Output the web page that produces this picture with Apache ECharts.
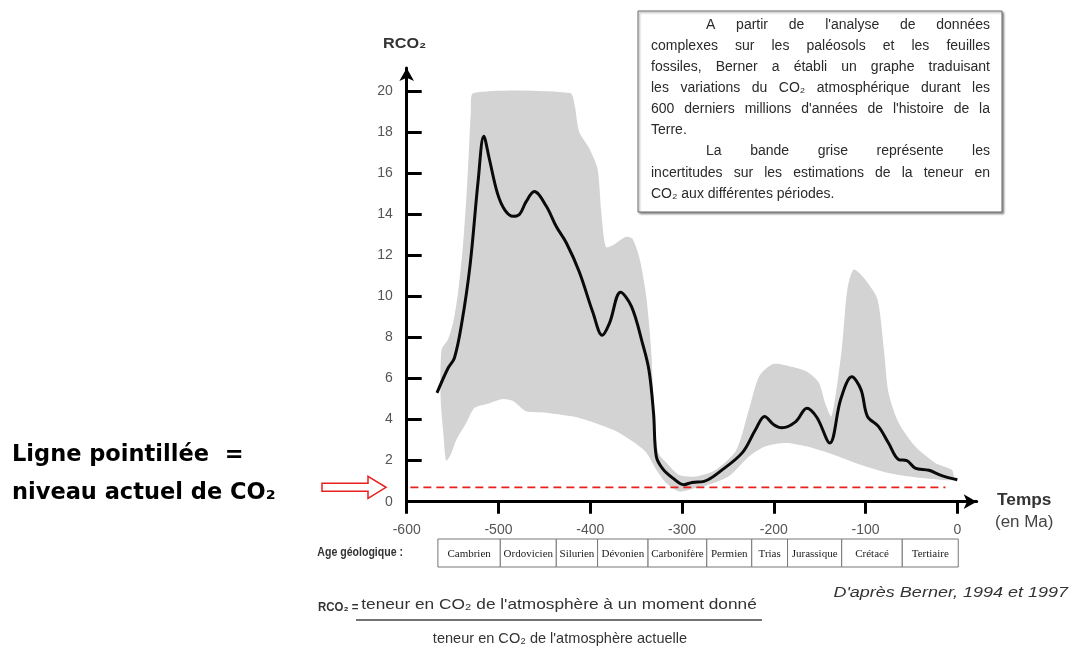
<!DOCTYPE html>
<html>
<head>
<meta charset="utf-8">
<script src="https://cdn.jsdelivr.net/npm/echarts@6/dist/echarts.min.js"></script>
<style>
  html, body { margin: 0; padding: 0; background: #fff; }
  #chart { width: 1072px; height: 649px; }
</style>
</head>
<body>
<div id="chart"></div>
<script>
// Atmospheric CO2 ratio (RCO2) over the last 600 Ma, after Berner (1994, 1997)

// Best-estimate curve: age (Ma) and RCO2
const curveAge  = [-567, -555, -548, -540, -531, -522, -516, -510, -501, -493, -484, -477, -470, -461, -448, -437, -426, -412, -397, -387, -379, -367, -355, -343, -336, -331, -328, -321, -310, -298, -289, -276, -256, -234, -220, -210, -200, -191, -176, -164, -153, -139, -127, -115, -105, -98, -86, -75, -64, -55, -46, -31, -17, 0];
const curveRco2 = [5.3, 6.5, 7.0, 8.7, 11.5, 15.7, 17.8, 16.7, 15.0, 14.2, 13.9, 14.0, 14.6, 15.1, 14.4, 13.4, 12.6, 11.2, 9.2, 8.1, 8.7, 10.2, 9.5, 7.7, 6.4, 4.3, 2.2, 1.6, 1.15, 0.83, 0.94, 0.99, 1.56, 2.4, 3.5, 4.15, 3.75, 3.6, 3.9, 4.55, 4.1, 2.86, 5.0, 6.08, 5.46, 4.16, 3.67, 2.86, 2.05, 2.0, 1.64, 1.53, 1.27, 1.07];

// Uncertainty band: upper edge
const bandTopAge  = [-562, -555, -549, -544, -539, -535, -532, -530, -527, -422, -417, -412, -401, -392, -388, -383, -375, -361, -354, -346, -339, -334, -330, -326, -317, -303, -285, -263, -241, -227, -216, -201, -183, -165, -151, -144, -137, -126, -120, -113, -100, -87, -80, -75, -64, -46, -24, -6, -4];
const bandTopRco2 = [7.4, 7.9, 8.8, 10.2, 12.3, 14.8, 17.3, 19.0, 19.9, 19.9, 19.3, 18.0, 17.2, 16.2, 14.1, 12.4, 12.5, 12.9, 12.8, 11.8, 10.0, 7.6, 4.3, 2.4, 1.9, 1.3, 1.23, 1.56, 2.5, 4.5, 6.1, 6.7, 6.6, 6.36, 5.8, 4.8, 4.16, 7.4, 10.3, 11.3, 10.8, 9.85, 7.4, 5.3, 3.84, 2.7, 1.89, 1.56, 1.3];

// Uncertainty band: lower edge
const bandBottomAge  = [-563, -560, -557, -552, -546, -535, -526, -510, -495, -484, -470, -448, -412, -375, -354, -339, -328, -317, -303, -285, -278, -249, -227, -209, -187, -165, -140, -111, -75, -38, -4];
const bandBottomRco2 = [5.0, 3.3, 2.0, 2.3, 3.0, 3.84, 4.57, 4.8, 5.0, 4.9, 4.4, 4.33, 4.08, 3.5, 2.94, 2.4, 1.56, 0.9, 0.5, 0.67, 0.72, 1.24, 2.2, 2.7, 2.86, 2.7, 2.37, 1.89, 1.4, 1.15, 1.05];

// Present-day level (dashed reference line)
const presentAge  = [-596, -13];
const presentRco2 = [0.7, 0.7];

// Axis ticks
const xTickValues = [-600, -500, -400, -300, -200, -100, 0];
const yTickValues = [0, 2, 4, 6, 8, 10, 12, 14, 16, 18, 20];

// Geological periods and their drawn limits (Ma)
const periodNames  = ['Cambrien', 'Ordovicien', 'Silurien', 'Dévonien', 'Carbonifère', 'Permien', 'Trias', 'Jurassique', 'Crétacé', 'Tertiaire'];
const periodBounds = [-566, -498, -437, -392, -337, -273, -224, -185, -126, -60, 1];

// Explanatory note
const noteLines = [
  "A partir de l'analyse de données",
  "complexes sur les paléosols et les feuilles",
  "fossiles, Berner a établi un graphe traduisant",
  "les variations du CO₂ atmosphérique durant les",
  "600 derniers millions d'années de l'histoire de la",
  "Terre.",
  "La bande grise représente les",
  "incertitudes sur les estimations de la teneur en",
  "CO₂ aux différentes périodes."
];
const noteIndented = [true, false, false, false, false, false, true, false, false];
const noteJustified = [true, true, true, true, true, false, true, true, false];

const SANS = '"Liberation Sans", Arial, Helvetica, sans-serif';
const SERIF = '"Liberation Serif", "Times New Roman", serif';
const HAND = '"Comic Sans MS", "DejaVu Sans", sans-serif';

function pairs(xs, ys) { return xs.map((x, i) => [x, ys[i]]); }

const chart = echarts.init(document.getElementById('chart'), null, { renderer: 'canvas' });

chart.setOption({
  animation: false,
  backgroundColor: '#ffffff',
  grid: { left: 406.7, right: 95.3, top: 68, bottom: 147.3, containLabel: false },
  xAxis: {
    type: 'value', min: -600, max: 21.1,
    splitLine: { show: false },
    axisLine: { show: true, lineStyle: { color: '#000', width: 3 }, symbol: ['none', 'arrow'], symbolSize: [11, 13] },
    axisTick: { show: true, inside: false, length: 12, lineStyle: { color: '#000', width: 3 }, customValues: xTickValues },
    axisLabel: { show: true, margin: 21, color: '#555', fontSize: 14, fontFamily: SANS, customValues: xTickValues }
  },
  yAxis: {
    type: 'value', min: 0, max: 21.12,
    splitLine: { show: false },
    axisLine: { show: true, onZero: false, lineStyle: { color: '#000', width: 3 }, symbol: ['none', 'arrow'], symbolSize: [11, 13] },
    axisTick: { show: true, inside: true, length: 15, lineStyle: { color: '#000', width: 3 }, customValues: yTickValues },
    axisLabel: { show: true, margin: 14, color: '#555', fontSize: 14, fontFamily: SANS, customValues: yTickValues }
  },
  series: [
    {
      // grey uncertainty band, drawn as one closed polygon
      type: 'custom',
      coordinateSystem: 'cartesian2d',
      silent: true,
      z: 1,
      data: [[bandTopAge[0], bandTopRco2[0]]],
      encode: { x: 0, y: 1 },
      renderItem: function (params, api) {
        const pts = [];
        for (let i = 0; i < bandTopAge.length; i++) pts.push(api.coord([bandTopAge[i], bandTopRco2[i]]));
        for (let i = bandBottomAge.length - 1; i >= 0; i--) pts.push(api.coord([bandBottomAge[i], bandBottomRco2[i]]));
        return { type: 'polygon', shape: { points: pts, smooth: 0.25 }, style: { fill: '#d3d3d3' } };
      }
    },
    {
      type: 'line',
      z: 3,
      data: pairs(presentAge, presentRco2),
      symbol: 'none',
      silent: true,
      lineStyle: { color: '#e8201f', width: 1.6, type: [8, 5] }
    },
    {
      type: 'line',
      z: 4,
      data: pairs(curveAge, curveRco2),
      symbol: 'none',
      smooth: 0.35,
      silent: true,
      lineStyle: { color: '#0a0a0a', width: 3 }
    }
  ]
});

// ---- annotations placed from the chart's own scales ----
const px = (t, v) => chart.convertToPixel({ gridIndex: 0 }, [t, v]);
const graphics = [];

function txt(x, y, text, opts, sx) {
  graphics.push({
    type: 'text', x: x, y: y, silent: true, z: 10, scaleX: sx || 1,
    style: Object.assign({ text: text, fill: '#333', fontSize: 14, fontFamily: SANS, align: 'left', verticalAlign: 'middle' }, opts || {})
  });
}

// axis titles
txt(383, 44, 'RCO₂', { fontWeight: 'bold', fontSize: 15, fill: '#333' }, 1.08);
txt(997, 501, 'Temps', { fontWeight: 'bold', fontSize: 16, fill: '#333' }, 1.08);
txt(995, 523, '(en Ma)', { fontSize: 16, fill: '#444' }, 1.06);

// geological time table
const tableTop = 539, tableBottom = 567;
txt(403, 553, 'Age géologique :', { fontWeight: 'bold', fontSize: 12, align: 'right', fill: '#333' }, 0.88);
for (let i = 0; i < periodNames.length; i++) {
  const x0 = px(periodBounds[i], 0)[0];
  const x1 = px(periodBounds[i + 1], 0)[0];
  graphics.push({
    type: 'rect', silent: true, z: 9,
    shape: { x: x0, y: tableTop, width: x1 - x0, height: tableBottom - tableTop },
    style: { fill: '#fff', stroke: '#777', lineWidth: 1 }
  });
  txt((x0 + x1) / 2, (tableTop + tableBottom) / 2 + 1, periodNames[i], { fontFamily: SERIF, fontSize: 11, align: 'center', fill: '#1a1a1a' });
}

// dashed-line legend on the left with hollow red arrow
const lvlY = px(presentAge[0], presentRco2[0])[1];
txt(12, 455, 'Ligne pointillée  =', { fontFamily: HAND, fontWeight: 'bold', fontSize: 22.5, fill: '#000' });
txt(12, 493, 'niveau actuel de CO₂', { fontFamily: HAND, fontWeight: 'bold', fontSize: 22.5, fill: '#000' });
graphics.push({
  type: 'polygon', silent: true, z: 10,
  shape: { points: [[322, lvlY - 4], [368, lvlY - 4], [368, lvlY - 11], [386, lvlY], [368, lvlY + 11], [368, lvlY + 4], [322, lvlY + 4]] },
  style: { fill: '#fff', stroke: '#e8201f', lineWidth: 1.5 }
});

// note box with justified text
graphics.push({
  type: 'rect', silent: true, z: 8,
  shape: { x: 638, y: 11, width: 364, height: 201 },
  style: { fill: '#fff', stroke: '#666', lineWidth: 1, shadowColor: 'rgba(0,0,0,0.35)', shadowOffsetX: 1.5, shadowOffsetY: 1.5, shadowBlur: 2 }
});
const noteFontSize = 14;
const meas = document.createElement('canvas').getContext('2d');
meas.font = noteFontSize + 'px ' + SANS;
const noteLeft = 651, noteRight = 990, noteIndent = 55, noteTop = 25, noteStep = 21.1;
noteLines.forEach((line, i) => {
  const y = noteTop + i * noteStep;
  const start = noteLeft + (noteIndented[i] ? noteIndent : 0);
  const words = line.split(' ');
  if (!noteJustified[i] || words.length < 2) {
    txt(start, y, line, { fontSize: noteFontSize, fill: '#2a2a2a' });
    return;
  }
  const widths = words.map(w => meas.measureText(w).width);
  const total = widths.reduce((a, b) => a + b, 0);
  const gap = (noteRight - start - total) / (words.length - 1);
  let x = start;
  words.forEach((w, k) => {
    txt(x, y, w, { fontSize: noteFontSize, fill: '#2a2a2a' });
    x += widths[k] + gap;
  });
});

// definition of RCO2
txt(318, 607, 'RCO₂ =', { fontWeight: 'bold', fontSize: 13, fill: '#333' }, 0.88);
txt(559, 605, "teneur en CO₂ de l'atmosphère à un moment donné", { fontSize: 15, align: 'center', fill: '#333' }, 1.15);
graphics.push({ type: 'line', silent: true, z: 10, shape: { x1: 356, y1: 620, x2: 762, y2: 620 }, style: { stroke: '#444', lineWidth: 1.5 } });
txt(560, 639, "teneur en CO₂ de l'atmosphère actuelle", { fontSize: 15, align: 'center', fill: '#333' }, 0.97);

// source
txt(1068, 593, "D'après Berner, 1994 et 1997", { fontStyle: 'italic', fontSize: 15, align: 'right', fill: '#333' }, 1.2);

chart.setOption({ graphic: { elements: graphics } });
</script>
</body>
</html>
